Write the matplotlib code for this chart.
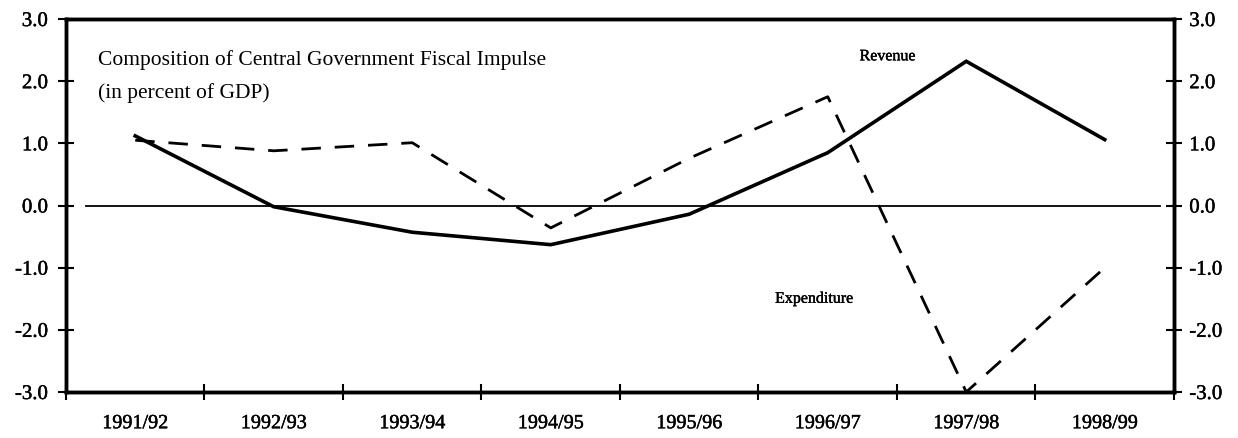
import numpy as np
import matplotlib
matplotlib.use("Agg")
import matplotlib.pyplot as plt
import matplotlib.patheffects as pe

# Composicao do impulso fiscal do governo central (% do PIB)
anos = ["1991/92", "1992/93", "1993/94", "1994/95",
        "1995/96", "1996/97", "1997/98", "1998/99"]
receita = [1.12, -0.02, -0.43, -0.63, -0.14, 0.85, 2.32, 1.06]
despesa = [1.05, 0.88, 1.01, -0.36, 0.76, 1.75, -3.0, -1.0]
y_ticks = [-3.0, -2.0, -1.0, 0.0, 1.0, 2.0, 3.0]

plt.rcParams["font.family"] = ["Liberation Serif", "DejaVu Serif"]
# traco fino por cima das letras, para engrossar um pouco a fonte
grosso = [pe.withStroke(linewidth=0.3, foreground="black")]

fig = plt.figure(figsize=(12.38, 4.39), dpi=100)
ax = fig.add_axes([0.0533, 0.1048, 0.895, 0.8496])

x = np.arange(len(anos))
ax.axhline(0, xmin=0.018, xmax=0.987, color="black", lw=1.3)
ax.plot(x, receita, color="black", lw=2.6, solid_joinstyle="miter")
ax.plot(x, despesa, color="black", lw=2.0, dashes=(7, 5))

ax.set_xlim(-0.5, len(anos) - 0.5)
ax.set_ylim(-3.0, 3.0)

# marcas nas fronteiras das categorias, rotulos no centro
ax.set_xticks(np.arange(-0.5, len(anos), 1.0))
ax.set_xticklabels([])
ax.set_xticks(x, minor=True)
ax.set_xticklabels(anos, minor=True, fontsize=14.5)
ax.tick_params(axis="x", which="major", direction="inout", length=12, width=1.5)
ax.tick_params(axis="x", which="minor", length=0, pad=16)

ax.set_yticks(y_ticks)
ax.set_yticklabels([f"{v:.1f}" for v in y_ticks], fontsize=15)
ax.tick_params(axis="y", direction="inout", length=12, width=1.5, pad=7)

# eixo da direita com os mesmos valores, rotulos mais colados
ax2 = ax.twinx()
ax2.set_ylim(ax.get_ylim())
ax2.set_yticks(y_ticks)
ax2.set_yticklabels([f"{v:.1f}" for v in y_ticks], fontsize=15)
ax2.tick_params(axis="y", direction="inout", length=12, width=1.5, pad=5)

for a in (ax, ax2):
    for s in a.spines.values():
        s.set_linewidth(2.5)
for lab in ax.get_xticklabels(minor=True) + ax.get_yticklabels() + ax2.get_yticklabels():
    lab.set_path_effects(grosso)

ax.text(-0.27, 2.27, "Composition of Central Government Fiscal Impulse",
        fontsize=15.5, va="baseline")
ax.text(-0.27, 1.74, "(in percent of GDP)",
        fontsize=15.5, va="baseline")
ax.text(5.23, 2.4, "Revenue", fontsize=11.5, va="center", path_effects=grosso)
ax.text(4.62, -1.5, "Expenditure", fontsize=11.5, va="center", path_effects=grosso)

fig.savefig("out.png", dpi=100)
